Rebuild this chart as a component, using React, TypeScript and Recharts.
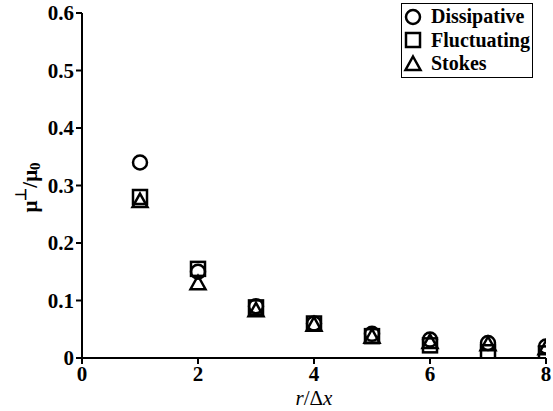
import React from 'react';
import { ScatterChart, Scatter, XAxis, YAxis, Legend, Label } from 'recharts';

// separation in grid units
const separations = [1, 2, 3, 4, 5, 6, 7, 8];

// normalised perpendicular mobility for each method
const dissipative = [0.34, 0.15, 0.09, 0.06, 0.042, 0.032, 0.026, 0.02];
const fluctuating = [0.28, 0.155, 0.088, 0.06, 0.038, 0.022, 0.01, 0.008];
const stokes = [0.273, 0.13, 0.083, 0.058, 0.037, 0.028, 0.024, 0.017];

const xTicks = [0, 2, 4, 6, 8];
const yTicks = [0, 0.1, 0.2, 0.3, 0.4, 0.5, 0.6];

const toPoints = (values: number[]) => separations.map((x, i) => ({ x, y: values[i] }));

const FONT = '"Liberation Serif"';
const INK = '#000';

type Marker = 'circle' | 'square' | 'triangle';

const markerPath = (kind: Marker, cx: number, cy: number) => {
  if (kind === 'circle') return <circle cx={cx} cy={cy} r={7} />;
  if (kind === 'square') return <rect x={cx - 7} y={cy - 7} width={14} height={14} />;
  return <polygon points={`${cx},${cy - 7.5} ${cx + 7.5},${cy + 6} ${cx - 7.5},${cy + 6}`} />;
};

const makeShape = (kind: Marker) => (props: any) => {
  const { cx, cy } = props;
  return (
    <g fill="none" stroke={INK} strokeWidth={2.5}>
      {markerPath(kind, cx, cy)}
    </g>
  );
};

const series: { name: string; values: number[]; marker: Marker }[] = [
  { name: 'Dissipative', values: dissipative, marker: 'circle' },
  { name: 'Fluctuating', values: fluctuating, marker: 'square' },
  { name: 'Stokes', values: stokes, marker: 'triangle' },
];

const LegendBox = () => (
  <div
    style={{
      border: `1.5px solid ${INK}`,
      background: '#fff',
      padding: '1px 0 1px 1px',
      fontFamily: FONT,
      fontWeight: 'bold',
      fontSize: 20,
      lineHeight: '23.5px',
      whiteSpace: 'nowrap',
      boxSizing: 'border-box',
      width: 132,
    }}
  >
    {series.map((s) => (
      <div key={s.name} style={{ display: 'flex', alignItems: 'center' }}>
        <svg width={20} height={20} style={{ marginRight: 8, flexShrink: 0 }}>
          <g fill="none" stroke={INK} strokeWidth={2.5}>
            {markerPath(s.marker, 10, 10)}
          </g>
        </svg>
        <span>{s.name}</span>
      </div>
    ))}
  </div>
);

const YTitle = (props: any) => {
  const { viewBox } = props;
  const cx = 30;
  const cy = viewBox.y + viewBox.height / 2 + 2;
  return (
    <text
      transform={`translate(${cx},${cy}) rotate(-90)`}
      textAnchor="middle"
      fontFamily={FONT}
      fontWeight="bold"
      fontSize={21}
      fill={INK}
      dominantBaseline="central"
    >
      <tspan>μ</tspan>
      <tspan fontSize={15} dy={-9}>⊥</tspan>
      <tspan dy={9}>/μ</tspan>
      <tspan fontSize={15} dy={5}>0</tspan>
    </text>
  );
};

const XTitle = (props: any) => {
  const { viewBox } = props;
  const cx = viewBox.x + viewBox.width / 2;
  return (
    <text x={cx} y={405} textAnchor="middle" fontFamily={FONT} fontSize={21} fill={INK}>
      <tspan fontStyle="italic">r</tspan>
      <tspan>/Δ</tspan>
      <tspan fontStyle="italic">x</tspan>
    </text>
  );
};

const tickStyle = { fontFamily: FONT, fontWeight: 'bold', fontSize: 21, fill: INK };

export default function App() {
  return (
    <div style={{ position: 'absolute', left: 0, top: 0, width: 553, height: 411, background: '#fff' }}>
      <ScatterChart width={553} height={411} margin={{ top: 13, right: 7, bottom: 0, left: 0 }}>
        <XAxis
          type="number"
          dataKey="x"
          domain={[0, 8]}
          ticks={xTicks}
          axisLine={{ stroke: INK, strokeWidth: 2 }}
          tickLine={{ stroke: INK, strokeWidth: 2 }}
          tickSize={6}
          tick={tickStyle}
          height={53}
          allowDataOverflow
        >
          <Label content={<XTitle />} />
        </XAxis>
        <YAxis
          type="number"
          dataKey="y"
          domain={[0, 0.6]}
          ticks={yTicks}
          axisLine={{ stroke: INK, strokeWidth: 2 }}
          tickLine={{ stroke: INK, strokeWidth: 2 }}
          tickSize={6}
          tick={tickStyle}
          width={82}
          allowDataOverflow
        >
          <Label content={<YTitle />} />
        </YAxis>
        <Legend
          layout="vertical"
          align="center"
          verticalAlign="middle"
          content={<LegendBox />}
          wrapperStyle={{ top: 3, left: 401, width: 132 }}
        />
        {series.map((s) => (
          <Scatter
            key={s.name}
            name={s.name}
            data={toPoints(s.values)}
            shape={makeShape(s.marker)}
            isAnimationActive={false}
          />
        ))}
      </ScatterChart>
    </div>
  );
}
